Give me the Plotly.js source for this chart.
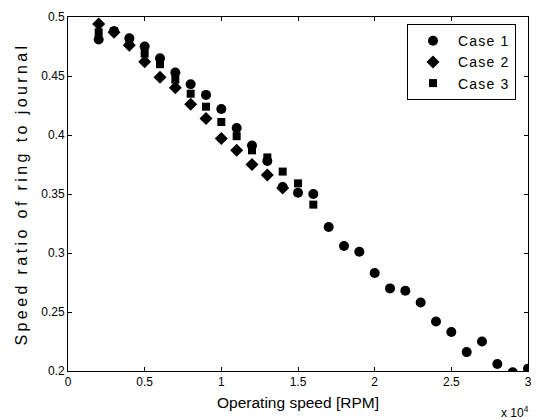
<!DOCTYPE html>
<html>
<head>
<meta charset="utf-8">
<script src="https://cdn.plot.ly/plotly-3.0.1.min.js"></script>
<style>
html,body{margin:0;padding:0;background:#fff;}
#chart{width:537px;height:420px;}
.ytitle{letter-spacing:3.4px;}
.legendtext{letter-spacing:1.2px;}
</style>
</head>
<body>
<div id="chart"></div>
<script>
// Data
const case1Speed = [2000,3000,4000,5000,6000,7000,8000,9000,10000,11000,12000,13000,14000,15000,16000,17000,18000,19000,20000,21000,22000,23000,24000,25000,26000,27000,28000,29000,30000];
const case1Ratio = [0.481,0.488,0.482,0.475,0.465,0.453,0.443,0.434,0.422,0.406,0.391,0.378,0.356,0.351,0.350,0.322,0.306,0.301,0.283,0.270,0.268,0.258,0.242,0.233,0.216,0.225,0.206,0.199,0.202];

const case2Speed = [2000,3000,4000,5000,6000,7000,8000,9000,10000,11000,12000,13000,14000];
const case2Ratio = [0.494,0.487,0.476,0.462,0.449,0.440,0.426,0.414,0.397,0.387,0.375,0.366,0.355];

const case3Speed = [2000,3000,4000,5000,6000,7000,8000,9000,10000,11000,12000,13000,14000,15000,16000];
const case3Ratio = [0.487,0.488,0.479,0.469,0.460,0.447,0.435,0.424,0.411,0.399,0.387,0.381,0.369,0.359,0.341];

const xTickVals = [0,5000,10000,15000,20000,25000,30000];
const xTickText = ["0","0.5","1","1.5","2","2.5","3"];
const yTickVals = [0.2,0.25,0.3,0.35,0.4,0.45,0.5];
const yTickText = ["0.2","0.25","0.3","0.35","0.4","0.45","0.5"];

const FONT = "Liberation Sans, Arial, Helvetica, sans-serif";

const traces = [
  {x: case1Speed, y: case1Ratio, mode: "markers", type: "scatter", name: "Case 1",
   marker: {symbol: "circle", size: 10, color: "#000"}},
  {x: case2Speed, y: case2Ratio, mode: "markers", type: "scatter", name: "Case 2",
   marker: {symbol: "diamond", size: 10, color: "#000"}},
  {x: case3Speed, y: case3Ratio, mode: "markers", type: "scatter", name: "Case 3",
   marker: {symbol: "square", size: 8, color: "#000"}}
];

const axisCommon = {
  showgrid: false, zeroline: false, showline: true, linecolor: "#000", linewidth: 1,
  mirror: "ticks", ticks: "inside", ticklen: 4, tickcolor: "#000",
  tickfont: {family: FONT, size: 12, color: "#000"}
};

const layout = {
  width: 537, height: 420,
  margin: {l: 68, r: 9, t: 17, b: 49},
  paper_bgcolor: "#fff", plot_bgcolor: "#fff",
  font: {family: FONT, color: "#000"},
  showlegend: true,
  xaxis: Object.assign({}, axisCommon, {
    range: [0, 30000], tickvals: xTickVals, ticktext: xTickText,
    title: {text: "Operating speed [RPM]", font: {family: FONT, size: 15.5, color: "#000"}, standoff: 8}
  }),
  yaxis: Object.assign({}, axisCommon, {
    range: [0.2, 0.5], tickvals: yTickVals, ticktext: yTickText,
    title: {text: "Speed ratio of ring to journal", font: {family: FONT, size: 16, color: "#000"}, standoff: 9}
  }),
  legend: {
    x: 0.737, y: 0.98, xanchor: "left", yanchor: "top",
    bgcolor: "#fff", bordercolor: "#000", borderwidth: 1,
    font: {family: FONT, size: 14, color: "#000"},
    itemwidth: 40
  },
  annotations: [{
    xref: "paper", yref: "paper", x: 1, y: 0, xanchor: "right", yanchor: "top",
    yshift: -31, xshift: 3, text: "x 10<sup>4</sup>", showarrow: false,
    font: {family: FONT, size: 12, color: "#000"}
  }]
};

Plotly.newPlot("chart", traces, layout, {displayModeBar: false, staticPlot: true});
</script>
</body>
</html>
